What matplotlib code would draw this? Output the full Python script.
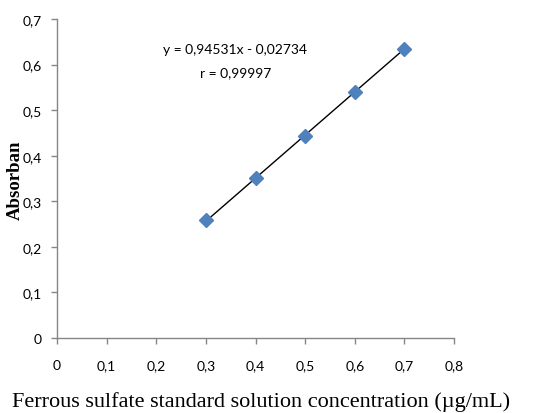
import matplotlib
matplotlib.use("Agg")
import matplotlib.pyplot as plt
import numpy as np

conc = [0.3, 0.4, 0.5, 0.6, 0.7]
absorb = [0.258, 0.351, 0.443, 0.539, 0.634]
slope = 0.94531
intercept = -0.02734
eq_text = "y = 0,94531x - 0,02734"
r_text = "r = 0,99997"
xticks = [0, 0.1, 0.2, 0.3, 0.4, 0.5, 0.6, 0.7, 0.8]
yticks = [0, 0.1, 0.2, 0.3, 0.4, 0.5, 0.6, 0.7]

def comma(v):
    s = f"{v:g}"
    return s.replace(".", ",")

fig = plt.figure(figsize=(5.52, 4.14), dpi=100)
ax = fig.add_axes([57/552, 1-339/414, (454-57)/552, (339-20)/414])

xl = np.array([conc[0], conc[-1]])
ax.plot(xl, slope*xl + intercept, color="black", lw=1.0, zorder=2)
ax.plot(conc, absorb, linestyle="none", marker="D", markersize=7,
        color="#4F81BD", markeredgecolor="#4F81BD", zorder=3)

ax.set_xlim(0, 0.8)
ax.set_ylim(0, 0.7)
ax.set_xticks(xticks)
ax.set_yticks(yticks)
tick_font = ["Lato", "Liberation Sans", "DejaVu Sans"]
ax.set_xticklabels([comma(v) for v in xticks], family=tick_font, fontsize=10)
ax.set_yticklabels([comma(v) for v in yticks], family=tick_font, fontsize=10)
ax.tick_params(axis="both", direction="out", length=4, color="#868686", width=1)
ax.tick_params(axis="x", pad=11)
ax.tick_params(axis="y", pad=7)
for s in ["top", "right"]:
    ax.spines[s].set_visible(False)
for s in ["left", "bottom"]:
    ax.spines[s].set_color("#868686")
    ax.spines[s].set_linewidth(1)

ax.text(0.359, 0.634, eq_text, ha="center", va="center", family=tick_font, fontsize=10)
ax.text(0.359, 0.584, r_text, ha="center", va="center", family=tick_font, fontsize=10)

fig.text(15/552, 1-180/414, "Absorban", rotation=90, ha="center", va="center",
         family="Liberation Serif", fontweight="bold", fontsize=13.5)
fig.text(261/552, 1-402/414, "Ferrous sulfate standard solution concentration (µg/mL)",
         ha="center", va="center", family="Liberation Serif", fontsize=16)

fig.savefig("out.png", dpi=100)
